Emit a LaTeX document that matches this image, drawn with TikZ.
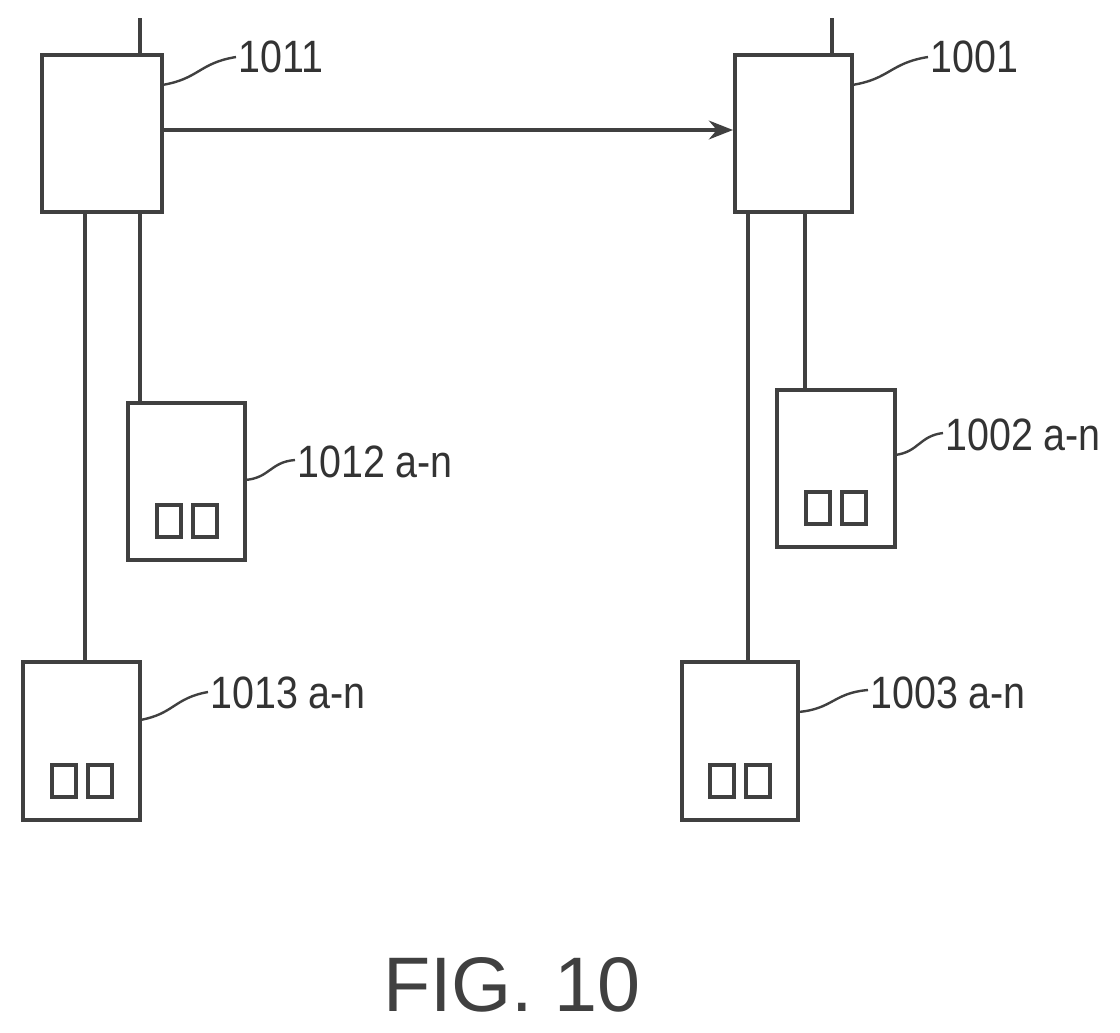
\documentclass[tikz,border=0pt]{standalone}
\usepackage{fontspec}
\setmainfont{Liberation Sans}
\usetikzlibrary{arrows.meta,calc}
\begin{document}
\begin{tikzpicture}[x=0.75pt,y=-0.75pt,
  ln/.style={line width=3pt,draw=black!75},
  box/.style={ln,fill=white},
  lbl/.style={anchor=west,inner sep=0pt,font=\fontsize{34}{34}\selectfont,xscale=0.87,text=black!80},
  lead/.style={line width=1.8pt,draw=black!75}]
\useasboundingbox (0,0) rectangle (1120,1032);
% wires
\draw[ln] (140,18) -- (140,55);
\draw[ln] (832,18) -- (832,55);
\draw[ln] (85,212) -- (85,662);
\draw[ln] (140,212) -- (140,403);
\draw[ln] (748,212) -- (748,662);
\draw[ln] (805,212) -- (805,390);
% boxes
\draw[box] (42,55) rectangle (162,212);
\draw[box] (735,55) rectangle (852,212);
\draw[box] (128,403) rectangle (245,560);
\draw[box] (23,662) rectangle (140,820);
\draw[box] (777,390) rectangle (895,547);
\draw[box] (682,662) rectangle (798,820);
\foreach \x/\y in {157/505,193/505,52/765,88/765,806/492,842/492,710/765,746/765}
  \draw[ln,line width=2.5pt] (\x,\y) rectangle ++(24,32);
% arrow
\coordinate (a1) at (162,130); \coordinate (a2) at (733,130);
\draw[ln,-{Stealth[length=18pt,width=14pt,open]}] (a1) -- (a2);
% labels
\node[lbl] (t1011) at (238,57) {1011};
\node[lbl] (t1001) at (930,57) {1001};
\node[lbl] (t1012) at (297,462) {1012 a-n};
\node[lbl] (t1002) at (945,435) {1002 a-n};
\node[lbl] (t1013) at (210,693) {1013 a-n};
\node[lbl] (t1003) at (870,693) {1003 a-n};
\foreach \s/\e in {{162,85}/{236,57},{852,85}/{928,57},{245,480}/{295,460},{895,455}/{943,433},{140,720}/{208,692},{798,712}/{868,690}}
  \draw[lead] (\s) .. controls ($(\s)!0.5!(\e)+(0,8)$) and ($(\s)!0.5!(\e)-(0,8)$) .. (\e);
\node[font=\fontsize{58}{58}\selectfont,text=black!75] (fig) at (512,985) {FIG. 10};
\end{tikzpicture}
\end{document}
